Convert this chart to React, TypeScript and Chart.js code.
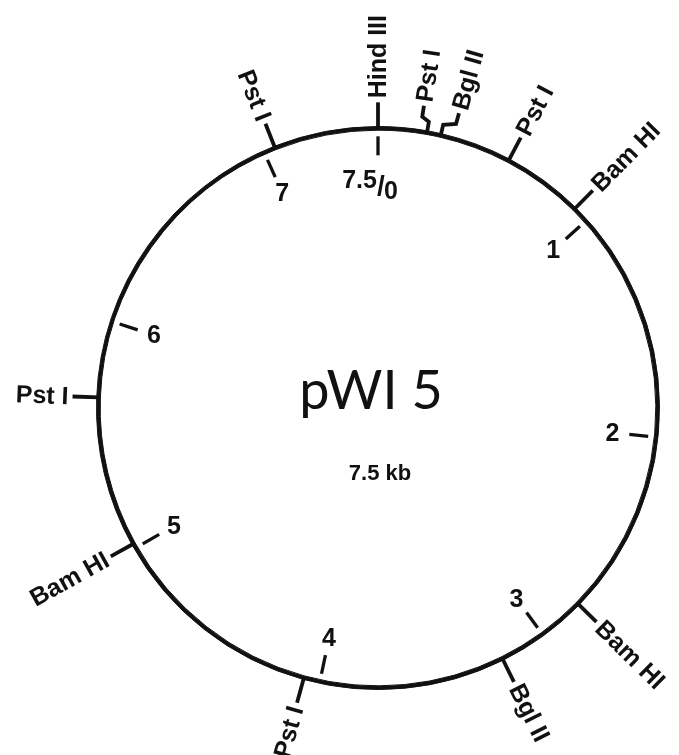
import React, { useEffect, useRef } from "react";
import { Chart, registerables } from "chart.js";

Chart.register(...registerables);

// ---- data ----
const plasmidName = "pWI 5";
const plasmidSizeLabel = "7.5 kb";
const totalKb = 7.5;

const siteNames = ["Hind III", "Pst I", "Bgl II", "Pst I", "Bam HI", "Bam HI", "Bgl II", "Pst I", "Bam HI", "Pst I", "Pst I"];
const sitePositionsKb = [0, 0.21, 0.27, 0.58, 0.93, 2.8, 3.2, 4.07, 5.02, 5.67, 7.05];
// angular shift (in kb) of the label for crowded sites drawn with a bent connector
const siteLabelShiftKb = [0, -0.03, 0.05, 0, 0, 0, 0, 0, 0, 0, 0];

const scaleTicksKb = [0, 1, 2, 3, 4, 5, 6, 7];
const scaleTickLabels = ["7.5/0", "1", "2", "3", "4", "5", "6", "7"];

const fragmentSizes = sitePositionsKb.map((p, i) =>
  (i < sitePositionsKb.length - 1 ? sitePositionsKb[i + 1] : totalKb) - p
);

const LABEL_FONT = "bold 25px 'Liberation Sans', Arial, Helvetica, sans-serif";

const mapPlugin = {
  id: "plasmidMap",
  afterDatasetsDraw(chart: any) {
    const ctx: CanvasRenderingContext2D = chart.ctx;
    const arcs = chart.getDatasetMeta(0).data;
    if (!arcs.length) return;
    const first = arcs[0];
    const cx = first.x;
    const cy = first.y;
    const R = (first.outerRadius + first.innerRadius) / 2;
    const rot = first.startAngle;
    const kbToAngle = (kb: number) => rot + (kb / totalKb) * Math.PI * 2;
    const pt = (r: number, a: number) => [cx + r * Math.cos(a), cy + r * Math.sin(a)];

    ctx.save();
    ctx.strokeStyle = "#111";
    ctx.fillStyle = "#111";
    ctx.lineWidth = 3.8;
    ctx.lineCap = "butt";
    ctx.lineJoin = "miter";

    // restriction sites (outside)
    arcs.forEach((arc: any, i: number) => {
      const a = arc.startAngle;
      const shift = siteLabelShiftKb[i] || 0;
      const la = a + (shift / totalKb) * Math.PI * 2;
      ctx.beginPath();
      let p = pt(R, a);
      ctx.moveTo(p[0], p[1]);
      if (shift !== 0) {
        p = pt(R + 11, a); ctx.lineTo(p[0], p[1]);
        p = pt(R + 15, la); ctx.lineTo(p[0], p[1]);
        p = pt(R + 26, la); ctx.lineTo(p[0], p[1]);
      } else {
        p = pt(R + 26, a); ctx.lineTo(p[0], p[1]);
      }
      ctx.stroke();

      // label
      let compass = (la - rot) % (Math.PI * 2);
      if (compass < 0) compass += Math.PI * 2;
      const rightSide = compass <= Math.PI + 0.01;
      ctx.save();
      ctx.translate(cx, cy);
      ctx.font = LABEL_FONT;
      ctx.textBaseline = "middle";
      if (rightSide) {
        ctx.rotate(la);
        ctx.textAlign = "left";
        ctx.fillText(siteNames[i], R + 30, 1);
      } else {
        ctx.rotate(la + Math.PI);
        ctx.textAlign = "right";
        ctx.fillText(siteNames[i], -(R + 30), 1);
      }
      ctx.restore();
    });

    // kb scale (inside)
    ctx.lineWidth = 3.3;
    scaleTicksKb.forEach((kb, i) => {
      const a = kbToAngle(kb);
      const p1 = pt(R - 8, a);
      const p2 = pt(R - 27, a);
      ctx.beginPath();
      ctx.moveTo(p1[0], p1[1]);
      ctx.lineTo(p2[0], p2[1]);
      ctx.stroke();

      const label = scaleTickLabels[i];
      ctx.font = LABEL_FONT;
      ctx.textBaseline = "middle";
      if (label.includes("/")) {
        const [main, sub] = label.split("/");
        const c = pt(R - 56, a);
        const wMain = ctx.measureText(main).width;
        const wSlash = ctx.measureText("/").width;
        const wSub = ctx.measureText(sub).width;
        const total = wMain + wSlash + wSub;
        let x = c[0] - total / 2 - 8;
        ctx.textAlign = "left";
        ctx.fillText(main, x, c[1] - 3);
        x += wMain;
        ctx.save();
        ctx.font = "bold 28px 'Liberation Sans', Arial, sans-serif";
        ctx.fillText("/", x, c[1] + 3);
        ctx.restore();
        x += wSlash;
        ctx.fillText(sub, x, c[1] + 8);
      } else {
        const c = pt(R - 44, a);
        ctx.textAlign = "center";
        ctx.fillText(label, c[0], c[1] + 1);
      }
    });

    // center titles
    ctx.textAlign = "center";
    ctx.textBaseline = "alphabetic";
    ctx.font = "54px Lato, 'Open Sans', sans-serif";
    ctx.fillText(plasmidName, cx - 7, cy + 1);
    ctx.font = "bold 22px 'Liberation Sans', Arial, sans-serif";
    ctx.fillText(plasmidSizeLabel, cx + 2, cy + 72);
    ctx.restore();
  },
};

export default function App() {
  const ref = useRef<HTMLCanvasElement | null>(null);
  useEffect(() => {
    if (!ref.current) return;
    const chart = new Chart(ref.current, {
      type: "doughnut",
      data: {
        labels: siteNames,
        datasets: [
          {
            data: fragmentSizes,
            backgroundColor: "#111",
            borderColor: "#111",
            borderWidth: 1,
            hoverOffset: 0,
          },
        ],
      },
      options: {
        animation: false,
        responsive: false,
        maintainAspectRatio: false,
        devicePixelRatio: 1,
        events: [],
        cutout: "98.7%",
        rotation: 0,
        layout: { padding: { left: 96, right: 19, top: 126, bottom: 65 } },
        plugins: {
          legend: { display: false },
          tooltip: { enabled: false },
          title: { display: false },
        },
      },
      plugins: [mapPlugin],
    } as any);
    return () => chart.destroy();
  }, []);
  return (
    <div style={{ position: "absolute", left: 0, top: 0, width: 679, height: 755, background: "#fff" }}>
      <canvas ref={ref} width={679} height={755} style={{ width: 679, height: 755, display: "block" }} />
    </div>
  );
}
